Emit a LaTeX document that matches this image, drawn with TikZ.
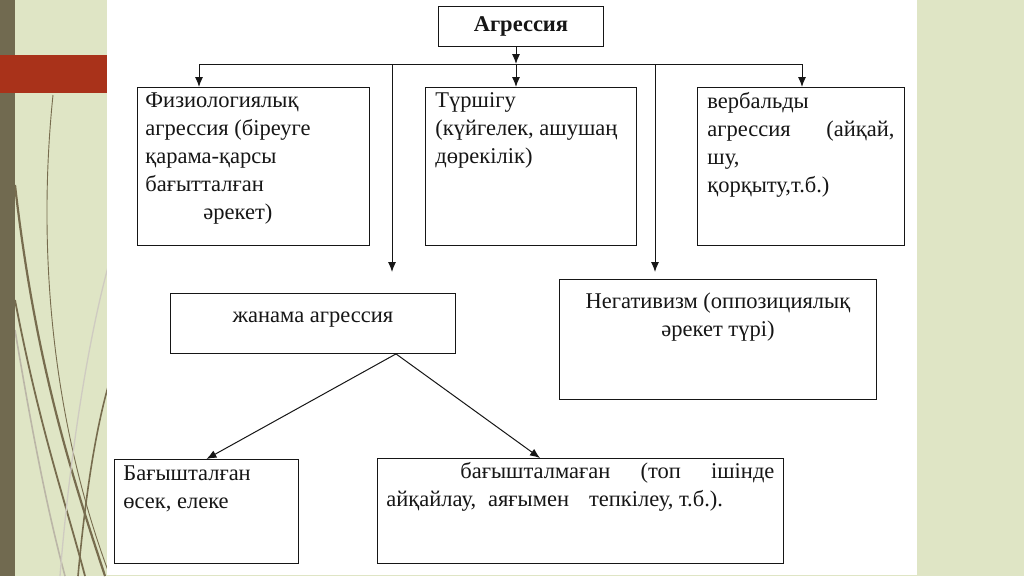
\documentclass[tikz,border=0pt]{standalone}
\usepackage{fontspec}
\setmainfont{Liberation Serif}
\usetikzlibrary{arrows.meta,calc}
\definecolor{bgc}{HTML}{DFE5C5}
\definecolor{strip}{HTML}{716A50}
\definecolor{redbar}{HTML}{A9321A}
\definecolor{wisp}{HTML}{776C4E}
\definecolor{ink}{HTML}{161616}
\newcommand{\bxt}[4]{\parbox[c][#2][t]{#1}{\vspace*{#3}\raggedright\strut #4}}
\newcommand{\bxc}[4]{\parbox[c][#2][t]{#1}{\vspace*{#3}\centering\strut #4}}
\begin{document}
\begin{tikzpicture}[x=1pt,y=-1pt,
  box/.style={draw=ink, line width=0.9pt, anchor=north west, inner ysep=0pt, inner xsep=9pt, text=ink, font=\fontsize{22.5}{28}\selectfont},
  arr/.style={draw=ink, line width=1pt, -{Latex[length=10pt,width=8pt]}},
  ln/.style={draw=ink, line width=1pt}]
\useasboundingbox (0,0) rectangle (1024,576);
\fill[bgc] (0,0) rectangle (1024,576);
\begin{scope}
\clip (15,0) rectangle (107,576);
\draw[wisp, line width=0.9pt] (53,95) .. controls (36,260) and (55,430) .. (110,576);
\draw[wisp, line width=2.2pt] (15,185) .. controls (35,360) and (70,470) .. (105,576);
\draw[wisp, line width=1.8pt] (15,300) .. controls (40,430) and (65,500) .. (85,576);
\draw[wisp!50, line width=1.6pt] (15,330) .. controls (35,450) and (50,520) .. (65,576);
\draw[wisp, line width=1.6pt] (78,576) .. controls (85,500) and (95,430) .. (110,380);
\draw[wisp!35, line width=1.3pt] (60,576) .. controls (70,450) and (90,330) .. (110,260);
\end{scope}
\fill[strip] (0,0) rectangle (15,576);
\fill[redbar] (0,55) rectangle (107,93);
\fill[white] (107,0) rectangle (917,575);

\node[box, font=\fontsize{22.5}{28}\selectfont\bfseries, minimum width=165pt, minimum height=40pt] (agg) at (438,6) {Агрессия};
\node[box, inner xsep=8pt] (phys) at (137,87) {\bxt{216pt}{158pt}{0pt}{Физиологиялық\\агрессия (біреуге\\қарама-қарсы\\бағытталған\\\hspace*{58pt}әрекет)}};
\node[box, inner xsep=10pt] (tur) at (425,87) {\bxt{191pt}{158pt}{0pt}{Түршігу\\(күйгелек, ашушаң\\дөрекілік)}};
\node[box, inner xsep=10pt] (verb) at (697,87) {\bxt{187pt}{158pt}{1.5pt}{вербальды\\агрессия\hfill(айқай,\\шу,\\қорқыту,т.б.)}};
\node[box] (zhan) at (170,293) {\bxc{267pt}{60pt}{9pt}{жанама агрессия}};
\node[box] (neg) at (559,279) {\bxc{299pt}{120pt}{9pt}{Негативизм (оппозициялық\\әрекет түрі)}};
\node[box] (bag) at (114,459) {\bxt{166pt}{104pt}{1pt}{Бағышталған\\өсек, елеке}};
\node[box] (bagm) at (377,458) {\bxt{388pt}{105pt}{0pt}{\hspace*{74pt}бағышталмаған\hfill(топ\hfill ішінде\hspace*{-6pt}\\айқайлау,\hspace{12pt}аяғымен\hspace{20pt}тепкілеу, т.б.).}};

\coordinate (bL) at (199,64);
\coordinate (bR) at (802,64);
\coordinate (bM) at (516,64);
\coordinate (v1) at (392,64);
\coordinate (v2) at (655,64);
\coordinate (zs) at (396,353);
\coordinate (rt) at (540,458);
\draw[ln] (bL) -- (bR);
\draw[arr] (agg.south -| bM) -- (bM);
\draw[arr] (bL) -- (bL |- phys.north);
\draw[arr] (bM) -- (bM |- tur.north);
\draw[arr] (bR) -- (bR |- verb.north);
\draw[arr, shorten >=21pt] (v1) -- (v1 |- zhan.north);
\draw[arr, shorten >=7pt] (v2) -- (v2 |- neg.north);
\draw[arr] (zhan.south -| zs) -- (bag.north);
\draw[arr] (zhan.south -| zs) -- (bagm.north -| rt);
\end{tikzpicture}
\end{document}
